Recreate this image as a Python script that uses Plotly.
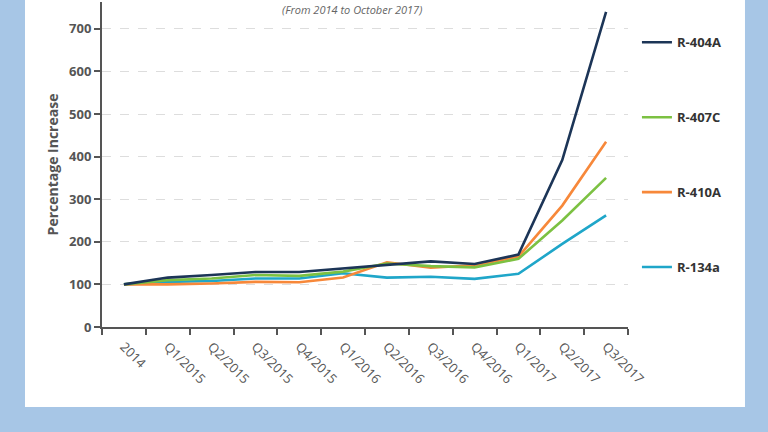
import plotly.graph_objects as go

categories = ["2014", "Q1/2015", "Q2/2015", "Q3/2015", "Q4/2015", "Q1/2016",
              "Q2/2016", "Q3/2016", "Q4/2016", "Q1/2017", "Q2/2017", "Q3/2017"]
r404a = [100, 116, 122, 129, 129, 137, 145, 154, 148, 170, 392, 740]
r407c = [100, 110, 114, 122, 120, 130, 149, 143, 140, 160, 250, 350]
r410a = [100, 100, 102, 106, 105, 116, 152, 139, 145, 165, 285, 435]
r134a = [100, 106, 108, 114, 114, 126, 116, 118, 113, 125, 195, 262]
y_ticks = [0, 100, 200, 300, 400, 500, 600, 700]

series = [
    ("R-134a", r134a, "#1fa6c9", 4),
    ("R-410A", r410a, "#f7883a", 3),
    ("R-407C", r407c, "#7cc142", 2),
    ("R-404A", r404a, "#1c3557", 1),
]

fig = go.Figure()
for name, vals, color, rank in series:
    fig.add_trace(go.Scatter(
        x=categories, y=vals, mode="lines", name=name,
        line=dict(color=color, width=2.6),
        legendgroup=name, legendrank=rank,
    ))

axis_color = "#555555"
fig.update_layout(
    width=768, height=432,
    margin=dict(l=102, r=140, t=2, b=105),
    paper_bgcolor="#a7c6e6",
    plot_bgcolor="rgba(0,0,0,0)",
    font=dict(family="Open Sans", color=axis_color),
    showlegend=True,
    legend=dict(
        x=1.017, xanchor="left", y=0.922, yanchor="top",
        font=dict(size=13, color="#333333", family="Open Sans", weight="bold"),
        tracegroupgap=55, itemwidth=30, bgcolor="rgba(0,0,0,0)",
    ),
    xaxis=dict(
        type="category", range=[-0.5, 11.5],
        showline=True, linecolor=axis_color, linewidth=2,
        ticks="outside", tickson="boundaries", ticklen=6, tickwidth=2,
        tickcolor=axis_color, showgrid=False, tickangle=45,
        ticklabelstandoff=5,
        tickfont=dict(size=13, color=axis_color),
    ),
    yaxis=dict(
        range=[0, 763], tickvals=y_ticks,
        showline=True, linecolor=axis_color, linewidth=2,
        ticks="outside", ticklen=6, tickwidth=2, tickcolor=axis_color,
        showgrid=True, gridcolor="#dddddd", griddash="dash", gridwidth=1,
        zeroline=False,
        tickfont=dict(size=13, color=axis_color, weight="bold"),
        title=dict(text="Percentage Increase", standoff=7,
                   font=dict(size=14, color=axis_color, weight="bold")),
    ),
    shapes=[
        dict(type="rect", xref="paper", yref="paper",
             x0=-0.1464, x1=1.2224, y0=-0.246, y1=1.02,
             fillcolor="white", line=dict(width=0), layer="below"),
    ],
    annotations=[
        dict(text="<i>(From 2014 to October 2017)</i>", xref="paper", yref="paper",
             x=0.475, y=0.978, yanchor="middle", showarrow=False,
             font=dict(size=11, color="#666666", family="Open Sans")),
    ],
)

fig.write_html("out.html")
